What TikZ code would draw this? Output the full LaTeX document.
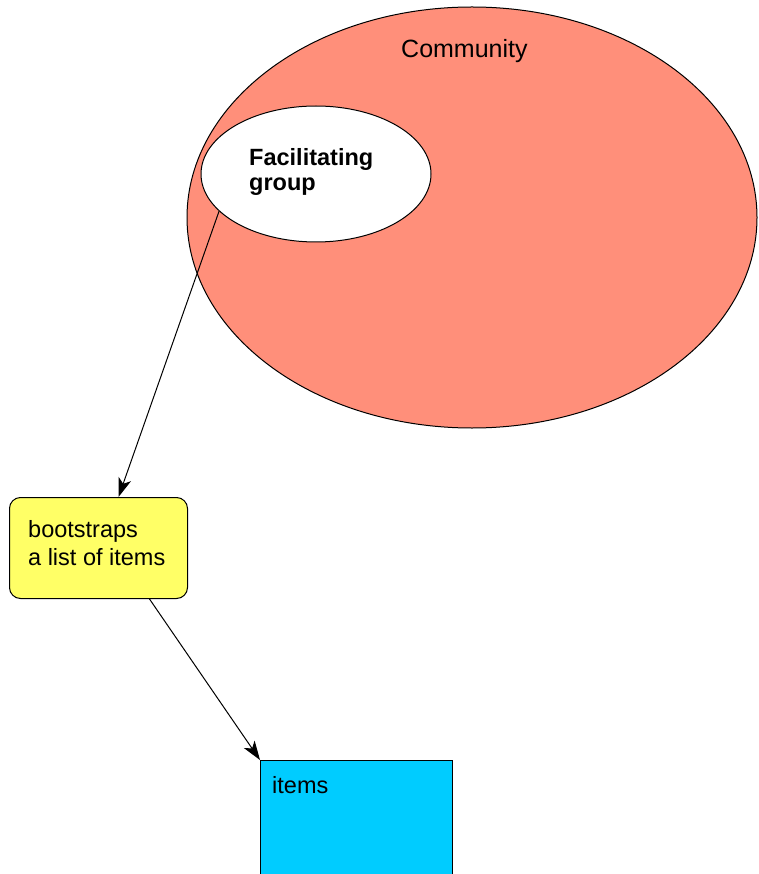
\documentclass[tikz,border=0pt]{standalone}
\usepackage{fontspec}
\setmainfont{Liberation Sans}
\usetikzlibrary{shapes.geometric,arrows.meta}
\definecolor{salmonfill}{RGB}{255,143,122}
\definecolor{notefill}{RGB}{255,255,102}
\definecolor{itemfill}{RGB}{0,204,255}
\tikzset{
  outline/.style={draw=black, line width=1pt},
  label/.style={anchor=base west, inner sep=0pt, font=\fontsize{23.5}{27}\selectfont},
  boldlabel/.style={label, font=\bfseries\fontsize{23.5}{27}\selectfont},
  flow/.style={draw=black, line width=1pt, -{Stealth[length=19pt, width=13pt, inset=5pt]}},
}
\begin{document}
\begin{tikzpicture}[x=1pt, y=-1pt]
\useasboundingbox (0,0) rectangle (758,874);
\clip (0,0) rectangle (758,874);

% community and the group inside it
\node[ellipse, outline, fill=salmonfill, inner sep=0pt,
      minimum width=570, minimum height=421] (comm) at (472,217.5) {};
\node[label, font=\fontsize{25}{28}\selectfont] (commtext) at (401,58) {Community};
\node[ellipse, outline, fill=white, inner sep=0pt,
      minimum width=230, minimum height=136] (fac) at (316,174) {};
\node[boldlabel] (factext1) at (249,166) {Facilitating};
\node[boldlabel] (factext2) at (249,191) {group};

% rounded note
\node[outline, fill=notefill, rounded corners=11pt, anchor=north west,
      minimum width=178, minimum height=101] (boot) at (9,497) {};
\node[label] (boottext1) at (28,537) {bootstraps};
\node[label] (boottext2) at (28,565) {a list of items};

% item box, running past the lower edge
\node[outline, fill=itemfill, anchor=north west,
      minimum width=192, minimum height=140] (items) at (260,760) {};
\node[label] (itemstext) at (272,793) {items};

% connectors
\draw[flow] (fac.201.6) -- ([xshift=20pt]boot.north);
\draw[flow] ([xshift=51pt]boot.south) -- (items.north west);
\end{tikzpicture}
\end{document}
